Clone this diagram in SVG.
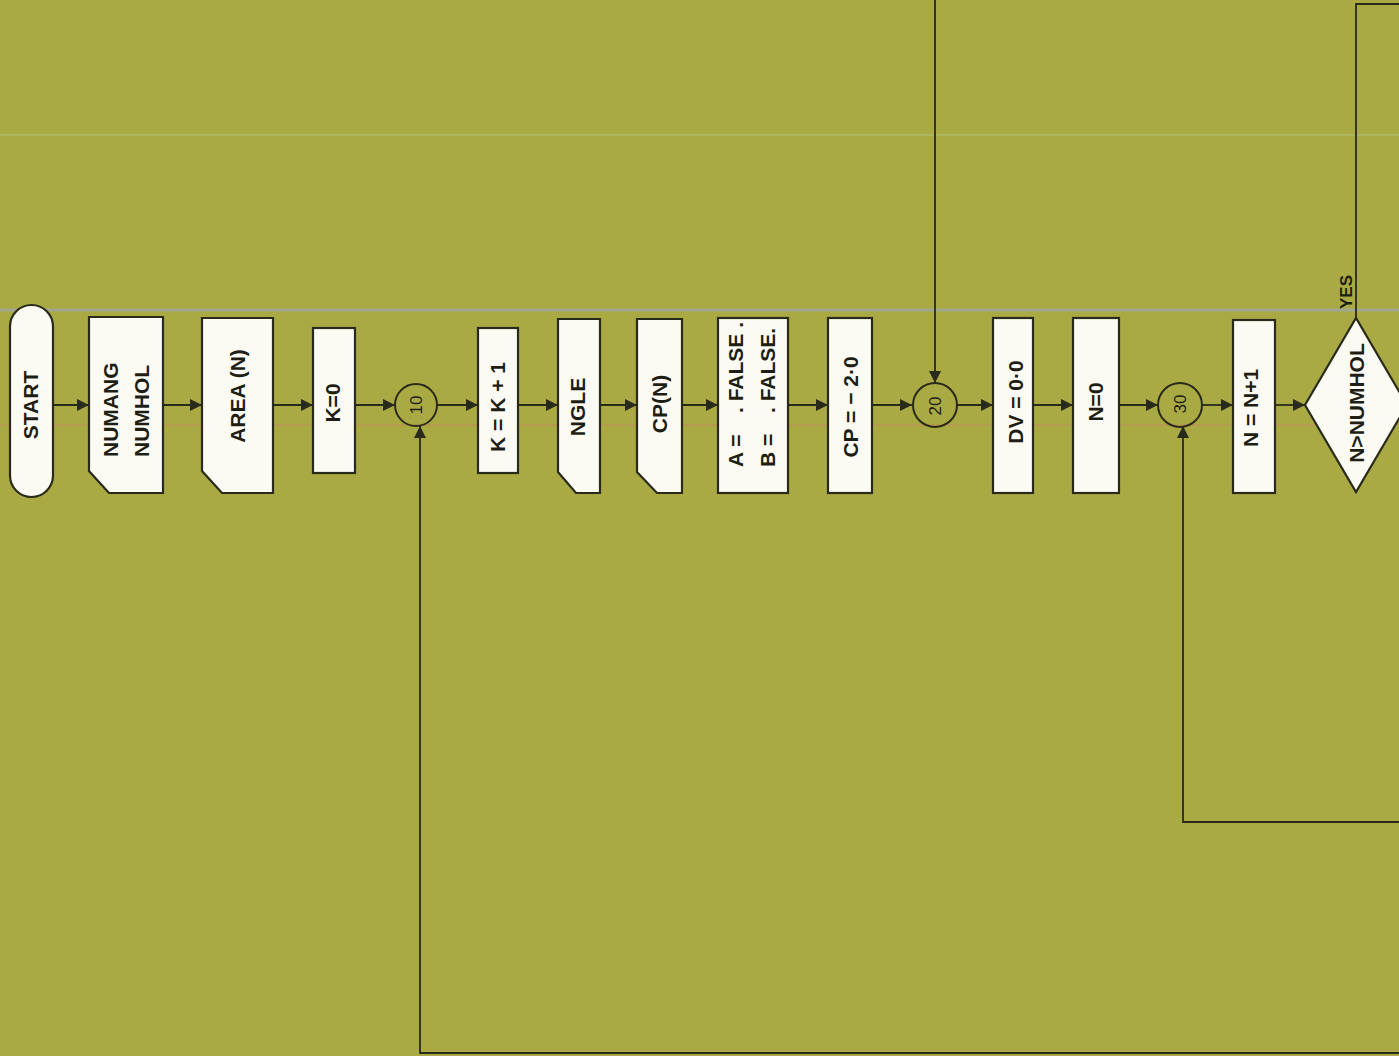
<svg xmlns="http://www.w3.org/2000/svg" width="1399" height="1056" viewBox="0 0 1399 1056">
<defs>
<style>
.n{fill:#fbfbf4;stroke:#2a2a1a;stroke-width:2.2}
.c{fill:none;stroke:#2a2a1a;stroke-width:2}
.e{fill:none;stroke:#2a2a1a;stroke-width:1.8}
.t{font-family:"Liberation Sans",Arial,sans-serif;font-weight:bold;font-size:21px;fill:#1e1e14}
.s{font-family:"Liberation Sans",Arial,sans-serif;font-size:17px;fill:#1e1e14}
.y{font-family:"Liberation Sans",Arial,sans-serif;font-weight:bold;font-size:17px;fill:#1e1e14}
</style>
<marker id="a" viewBox="0 0 10 10" refX="10" refY="5" markerWidth="12" markerHeight="12" markerUnits="userSpaceOnUse" orient="auto">
<path d="M0,0 L10,5 L0,10 Z" fill="#2a2a1a"/>
</marker>
</defs>
<rect width="1399" height="1056" fill="#a9aa44"/>
<g id="scanlines" opacity="0.5">
<line x1="0" y1="310" x2="1399" y2="310" stroke="#9aa6d8" stroke-width="3"/>
<line x1="0" y1="425" x2="1399" y2="425" stroke="#d87070" stroke-width="1"/>
<line x1="0" y1="135" x2="1399" y2="135" stroke="#b8d8a8" stroke-width="1"/>
</g>
<g id="connectors">
<line class="e" x1="53" y1="405" x2="89" y2="405" marker-end="url(#a)"/>
<line class="e" x1="163" y1="405" x2="202" y2="405" marker-end="url(#a)"/>
<line class="e" x1="273" y1="405" x2="313" y2="405" marker-end="url(#a)"/>
<line class="e" x1="355" y1="405" x2="395" y2="405" marker-end="url(#a)"/>
<line class="e" x1="437" y1="405" x2="478" y2="405" marker-end="url(#a)"/>
<line class="e" x1="518" y1="405" x2="558" y2="405" marker-end="url(#a)"/>
<line class="e" x1="600" y1="405" x2="637" y2="405" marker-end="url(#a)"/>
<line class="e" x1="682" y1="405" x2="718" y2="405" marker-end="url(#a)"/>
<line class="e" x1="788" y1="405" x2="828" y2="405" marker-end="url(#a)"/>
<line class="e" x1="872" y1="405" x2="912" y2="405" marker-end="url(#a)"/>
<line class="e" x1="957" y1="405" x2="993" y2="405" marker-end="url(#a)"/>
<line class="e" x1="1033" y1="405" x2="1073" y2="405" marker-end="url(#a)"/>
<line class="e" x1="1119" y1="405" x2="1158" y2="405" marker-end="url(#a)"/>
<line class="e" x1="1202" y1="405" x2="1233" y2="405" marker-end="url(#a)"/>
<line class="e" x1="1275" y1="405" x2="1305" y2="405" marker-end="url(#a)"/>
<polyline class="e" points="935,0 935,383" marker-end="url(#a)"/>
<polyline class="e" points="1356,318 1356,4 1399,4"/>
<polyline class="e" points="1399,1053 420,1053 420,426" marker-end="url(#a)"/>
<polyline class="e" points="1399,822 1183,822 1183,426" marker-end="url(#a)"/>
</g>
<g id="start"><rect class="n" x="10" y="305" width="43" height="192" rx="21.5"/></g>
<g id="numang"><path class="n" d="M89,317 H163 V493 H109 L89,471 Z"/></g>
<g id="area"><path class="n" d="M202,318 H273 V493 H222 L202,471 Z"/></g>
<g id="k0"><rect class="n" x="313" y="328" width="42" height="145"/></g>
<g id="c10"><circle class="c" cx="416" cy="405" r="21"/></g>
<g id="kk1"><rect class="n" x="478" y="328" width="40" height="145"/></g>
<g id="ngle"><path class="n" d="M558,319 H600 V493 H576 L558,472 Z"/></g>
<g id="cpn"><path class="n" d="M637,319 H682 V493 H657 L637,472 Z"/></g>
<g id="ab"><rect class="n" x="718" y="318" width="70" height="175"/></g>
<g id="cp2"><rect class="n" x="828" y="318" width="44" height="175"/></g>
<g id="c20"><circle class="c" cx="935" cy="405" r="22"/></g>
<g id="dv"><rect class="n" x="993" y="318" width="40" height="175"/></g>
<g id="n0"><rect class="n" x="1073" y="318" width="46" height="175"/></g>
<g id="c30"><circle class="c" cx="1180" cy="405" r="22"/></g>
<g id="nn1"><rect class="n" x="1233" y="320" width="42" height="173"/></g>
<g id="dec"><path class="n" d="M1305,405 L1356,318 L1407,405 L1356,492 Z"/></g>
<g id="labels" transform="rotate(-90)">
<text class="t" x="-405" y="38" text-anchor="middle">START</text>
<text class="t" x="-457" y="118">NUMANG</text>
<text class="t" x="-457" y="149">NUMHOL</text>
<text class="t" x="-396" y="245" text-anchor="middle">AREA (N)</text>
<text class="t" x="-403" y="340" text-anchor="middle" font-size="19">K=0</text>
<text class="t" x="-407" y="505" text-anchor="middle">K = K + 1</text>
<text class="t" x="-407" y="585" text-anchor="middle">NGLE</text>
<text class="t" x="-404" y="667" text-anchor="middle">CP(N)</text>
<text class="t" x="-467" y="743">A =</text>
<text class="t" x="-413" y="743">. FALSE .</text>
<text class="t" x="-467" y="775">B =</text>
<text class="t" x="-413" y="775">. FALSE.</text>
<text class="t" x="-407" y="858" text-anchor="middle">CP = − 2·0</text>
<text class="t" x="-402" y="1023" text-anchor="middle">DV = 0·0</text>
<text class="t" x="-402" y="1103" text-anchor="middle">N=0</text>
<text class="t" x="-408" y="1258" text-anchor="middle">N = N+1</text>
<text class="t" x="-403" y="1364" text-anchor="middle">N&gt;NUMHOL</text>
<text class="y" x="-292" y="1352" text-anchor="middle">YES</text>
<text class="s" x="-405" y="422" text-anchor="middle">10</text>
<text class="s" x="-406" y="941" text-anchor="middle">20</text>
<text class="s" x="-404" y="1186" text-anchor="middle">30</text>
</g>
</svg>
